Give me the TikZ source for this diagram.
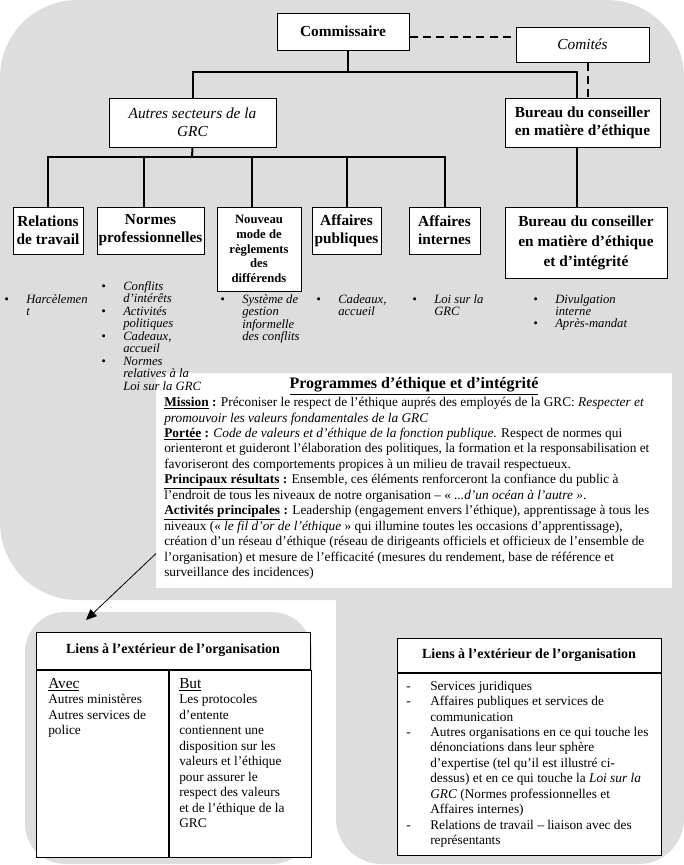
\documentclass[tikz,border=0pt]{standalone}
\usepackage{fontspec}
\setmainfont{Liberation Serif}
\usetikzlibrary{arrows.meta}
\definecolor{fondgris}{RGB}{221,221,221}

\begin{document}
\begin{tikzpicture}[x=0.75pt, y=-0.75pt,
    boite/.style={draw, fill=white, line width=0.75pt, align=center, inner sep=0.5pt,
      font=\fontsize{11.5}{13.5}\selectfont\bfseries},
    boiteit/.style={boite, font=\fontsize{11.5}{13.5}\selectfont\itshape},
    entete/.style={boite, font=\fontsize{10.5}{12}\selectfont\bfseries},
    cadre/.style={draw, fill=white, line width=0.75pt, anchor=north west, inner sep=0pt},
    liste/.style={anchor=north west, inner sep=0pt, font=\fontsize{9.5}{9.3}\selectfont\itshape},
    texte/.style={anchor=north west, inner sep=0pt, align=left, font=\fontsize{10}{11.6}\selectfont},
    lien/.style={line width=1.5pt},
    pointille/.style={line width=1.5pt, dash pattern=on 6pt off 4pt}]

  \useasboundingbox (0,0) rectangle (684,865);
  % fonds gris
  \fill[fondgris, rounded corners=58pt] (0,0) rectangle (684,600);
  \fill[fondgris, rounded corners=34pt] (336,480) rectangle (684,864);
  \fill[fondgris, rounded corners=30pt] (25,612) rectangle (312,864);

  \node[fill=white, anchor=north west, inner sep=0pt, minimum width=387pt, minimum height=161.25pt] (prog) at (156,373) {};

  % organigramme
  \node[boite, minimum width=99pt, minimum height=27.75pt] (comm) at (343,31.5) {Commissaire};
  \node[boiteit, minimum width=99.75pt, minimum height=26.25pt] (comites) at (582.5,44.5) {Comités};
  \node[boiteit, minimum width=125.25pt, minimum height=36.75pt] (autres) at (192.5,122.5) {Autres secteurs de la\\ GRC};
  \node[boite, minimum width=116.25pt, minimum height=36.75pt] (bureau1) at (582.5,122.5) {Bureau du conseiller\\ en matière d'éthique};
  \node[boite, minimum width=52.5pt, minimum height=35.25pt] (relations) at (48,230.5) {Relations\\ de travail};
  \node[boite, minimum width=80.25pt, minimum height=35.25pt] (normes) at (150.5,230.5) {Normes\\ professionnelles};
  \node[boite, minimum width=63pt, minimum height=63pt, font=\fontsize{9.5}{11.1}\selectfont\bfseries] (nouveau) at (259,249) {Nouveau\\ mode de\\ règlements\\ des\\ différends};
  \node[boite, minimum width=51.75pt, minimum height=35.25pt] (publiques) at (346.5,230.5) {Affaires\\ publiques};
  \node[boite, minimum width=53.25pt, minimum height=35.25pt] (internes) at (444.5,230.5) {Affaires\\ internes};
  \node[boite, minimum width=121.5pt, minimum height=53.25pt, font=\fontsize{11.5}{15}\selectfont\bfseries] (bureau2) at (586,242.5) {Bureau du conseiller\\ en matière d'éthique\\ et d'intégrité};

  \coordinate (busH) at (348,72);
  \coordinate (busB) at (192,157);
  \draw[lien] ([xshift=3.75pt]comm.south) -- (busH);
  \draw[lien] (autres.north) |- (busH) -| ([xshift=-4.125pt]bureau1.north);
  \draw[lien] (autres.south) -- (busB);
  \draw[lien] (relations.north) |- (busB) -| (internes.north);
  \draw[lien] ([xshift=-4.875pt]normes.north) -- ([xshift=-4.875pt]normes.north |- busB);
  \draw[lien] ([xshift=-5.25pt]nouveau.north) -- ([xshift=-5.25pt]nouveau.north |- busB);
  \draw[lien] (publiques.north) -- (publiques.north |- busB);
  \draw[lien] ([xshift=-4.125pt]bureau1.south) -- ([xshift=-4.125pt]bureau1.south |- bureau2.north);
  \draw[pointille] ([yshift=-4.125pt]comm.east) -- ([yshift=-4.125pt]comm.east -| comites.west);
  \draw[pointille] ([xshift=4.125pt]comites.south) -- ([xshift=4.125pt]comites.south |- bureau1.north);

  % listes
  \node[liste] (lrelations) at (4,294) {\begin{tabular}{@{}p{16.5pt}@{}l@{}}\textbullet & Harcèlemen\\ & t\end{tabular}};
  \node[liste] (lnormes) at (101,281) {\begin{tabular}{@{}p{16.5pt}@{}l@{}}\textbullet & Conflits\\ & d'intérêts\\ \textbullet & Activités\\ & politiques\\ \textbullet & Cadeaux,\\ & accueil\\ \textbullet & Normes\\ & relatives à la\\ & Loi sur la GRC\end{tabular}};
  \node[liste] (lnouveau) at (220,294) {\begin{tabular}{@{}p{16.5pt}@{}l@{}}\textbullet & Système de\\ & gestion\\ & informelle\\ & des conflits\end{tabular}};
  \node[liste] (lpubliques) at (316,294) {\begin{tabular}{@{}p{16.5pt}@{}l@{}}\textbullet & Cadeaux,\\ & accueil\end{tabular}};
  \node[liste] (linternes) at (412,294) {\begin{tabular}{@{}p{16.5pt}@{}l@{}}\textbullet & Loi sur la\\ & GRC\end{tabular}};
  \node[liste] (lbureau) at (533,294) {\begin{tabular}{@{}p{16.5pt}@{}l@{}}\textbullet & Divulgation\\ & interne\\ \textbullet & Après-mandat\end{tabular}};

  % programmes
  \node[texte, anchor=north] (progtitre) at (414,377) {\fontsize{12}{13}\selectfont\bfseries\underline{Programmes d'éthique et d'intégrité}};
  \node[texte] (progtexte) at (164,397) {\textbf{\underline{Mission}~:} Préconiser le respect de l'éthique auprés des employés de la GRC: \textit{Respecter et}\\
    \textit{promouvoir les valeurs fondamentales de la GRC}\\
    \textbf{\underline{Portée}~:} \textit{Code de valeurs et d'éthique de la fonction publique}. Respect de normes qui\\
    orienteront et guideront l'élaboration des politiques, la formation et la responsabilisation et\\
    favoriseront des comportements propices à un milieu de travail respectueux.\\
    \textbf{\underline{Principaux résultats}~:} Ensemble, ces éléments renforceront la confiance du public à\\
    l'endroit de tous les niveaux de notre organisation -- « \textit{...d'un océan à l'autre »}.\\
    \textbf{\underline{Activités principales}~:} Leadership (engagement envers l'éthique), apprentissage à tous les\\
    niveaux (« \textit{le fil d'or de l'éthique} » qui illumine toutes les occasions d'apprentissage),\\
    création d'un réseau d'éthique (réseau de dirigeants officiels et officieux de l'ensemble de\\
    l'organisation) et mesure de l'efficacité (mesures du rendement, base de référence et\\
    surveillance des incidences)};

  \coordinate (pointe) at (86,620);
  \draw[line width=0.6pt, -{Triangle[length=8pt, width=7pt]}] (prog.south west) ++(0,-35) -- (pointe);

  % liens a gauche
  \node[entete, minimum width=205.5pt, minimum height=27.75pt] (enteteG) at (173,650.5) {Liens à l'extérieur de l'organisation};
  \node[cadre, minimum width=99pt, minimum height=140.25pt] (colAvec) at (enteteG.south west) {};
  \node[cadre, minimum width=106.5pt, minimum height=140.25pt] (colBut) at (colAvec.north east) {};
  \node[texte] (avec) at (48,678) {{\fontsize{11.5}{11.6}\selectfont\underline{Avec}}\\ Autres ministères\\ Autres services de\\ police};
  \node[texte] (but) at (179,678) {{\fontsize{11.5}{11.6}\selectfont\underline{But}}\\ Les protocoles\\ d'entente\\ contiennent une\\ disposition sur les\\ valeurs et l'éthique\\ pour assurer le\\ respect des valeurs\\ et de l'éthique de la\\ GRC};

  % liens a droite
  \node[entete, minimum width=198pt, minimum height=25.5pt] (enteteD) at (529,655) {Liens à l'extérieur de l'organisation};
  \node[cadre, minimum width=198pt, minimum height=136.5pt] (cadreD) at (enteteD.south west) {};
  \node[texte] (listeD) at (406,679) {\begin{tabular}{@{}p{18pt}@{}l@{}}
    - & Services juridiques\\
    - & Affaires publiques et services de\\
      & communication\\
    - & Autres organisations en ce qui touche les\\
      & dénonciations dans leur sphère\\
      & d'expertise (tel qu'il est illustré ci-\\
      & dessus) et en ce qui touche la \textit{Loi sur la}\\
      & \textit{GRC} (Normes professionnelles et\\
      & Affaires internes)\\
    - & Relations de travail -- liaison avec des\\
      & représentants
  \end{tabular}};
\end{tikzpicture}
\end{document}
